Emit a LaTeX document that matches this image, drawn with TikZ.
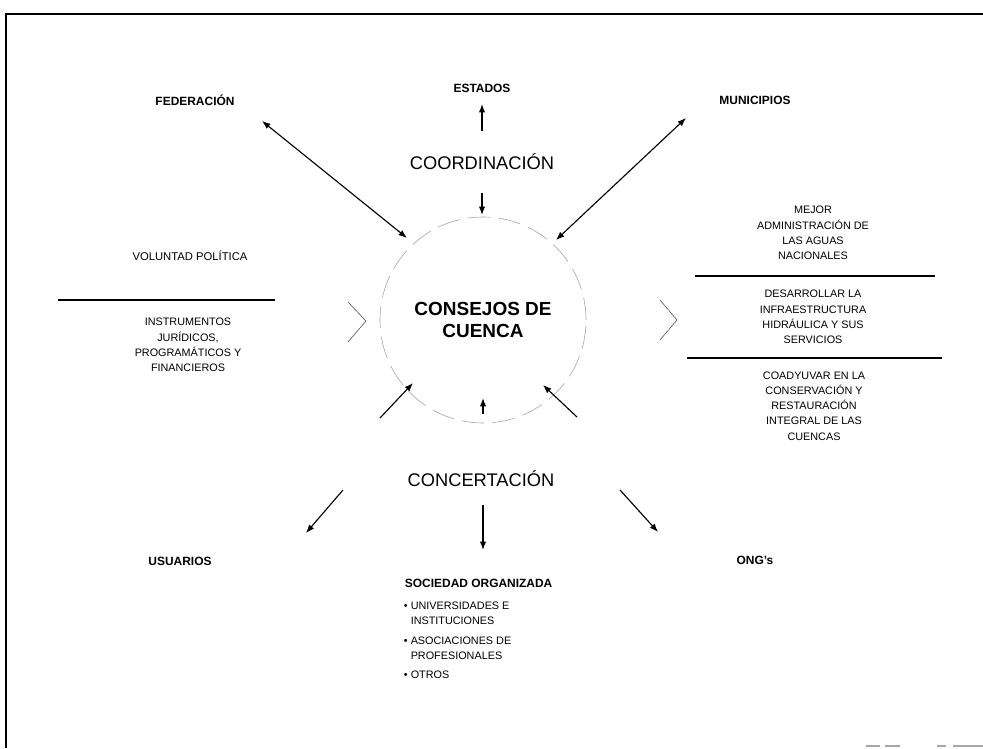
\documentclass[tikz,border=0pt]{standalone}
\usepackage{fontspec}
\setmainfont{Liberation Sans}
\usetikzlibrary{arrows.meta}
\tikzset{
  flecha/.style={-{Latex[length=6pt,width=4.5pt]},line width=0.8pt},
  dflecha/.style={{Latex[length=6pt,width=4.5pt]}-{Latex[length=6pt,width=4.5pt]},line width=0.8pt},
  actor/.style={font=\bfseries\fontsize{8.5}{10}\selectfont},
  texto/.style={align=center,font=\fontsize{7.7}{10.8}\selectfont},
  lema/.style={font=\fontsize{13}{15}\selectfont},
}
\begin{document}
\begin{tikzpicture}[x=0.025cm,y=-0.025cm]
  \useasboundingbox (0,0) rectangle (983,748);
  %marco
  \draw[line width=1pt] (6,748) -- (6,14) -- (983,14);
  \draw[gray!70,line width=0.8pt] (866,746) -- (880,746) (885,746) -- (900,746) (937,746) -- (946,746) (953,746) -- (983,746);
  %centro
  \node (consejo) [circle,draw=gray!75,dash pattern=on 16pt off 6pt,minimum size=5.15cm,align=center,
    font=\bfseries\fontsize{13.5}{16}\selectfont] at (483,320) {CONSEJOS DE\\CUENCA};
  \draw[black!70] (348,302) -- (366,321) -- (348,342);
  \draw[black!70] (660,300) -- (677,320) -- (660,340);
  %actores
  \node[actor] (estados) at (482,88) {ESTADOS};
  \node[actor] (federacion) at (195,100) {FEDERACIÓN};
  \node[actor] (municipios) at (755,100) {MUNICIPIOS};
  \node[actor] (usuarios) at (180,561) {USUARIOS};
  \node[actor] (ongs) at (755,560) {ONG's};
  \node[actor,anchor=west] (sociedad) at (400,583) {SOCIEDAD ORGANIZADA};
  \node[texto,anchor=north west,align=left] (lista) at (399,597) {%
    \textbullet\ UNIVERSIDADES E\\
    \phantom{\textbullet}\ INSTITUCIONES\\[3pt]
    \textbullet\ ASOCIACIONES DE\\
    \phantom{\textbullet}\ PROFESIONALES\\[3pt]
    \textbullet\ OTROS};
  \node[lema] (coordinacion) at (482,162) {COORDINACIÓN};
  \node[lema] (concertacion) at (481,479) {CONCERTACIÓN};
  %izquierda
  \node[texto,font=\fontsize{8}{10.8}\selectfont] (voluntad) at (190,256) {VOLUNTAD POLÍTICA};
  \draw[line width=0.8pt] (58,300) -- (275,300);
  \node[texto] (instrumentos) at (188,345) {INSTRUMENTOS\\JURÍDICOS,\\PROGRAMÁTICOS Y\\FINANCIEROS};
  %derecha
  \node[texto] (mejor) at (813,233) {MEJOR\\ADMINISTRACIÓN DE\\LAS AGUAS\\NACIONALES};
  \draw[line width=0.8pt] (695,276) -- (935,276);
  \node[texto] (desarrollar) at (813,317) {DESARROLLAR LA\\INFRAESTRUCTURA\\HIDRÁULICA Y SUS\\SERVICIOS};
  \draw[line width=0.8pt] (687,358) -- (942,358);
  \node[texto] (coadyuvar) at (814,406) {COADYUVAR EN LA\\CONSERVACIÓN Y\\RESTAURACIÓN\\INTEGRAL DE LAS\\CUENCAS};
  %flechas
  \coordinate (a1) at (482,131); \coordinate (a2) at (482,104);
  \coordinate (b1) at (482,193); \coordinate (b2) at (482,215);
  \coordinate (c1) at (262,121); \coordinate (c2) at (407,238);
  \coordinate (d1) at (686,118); \coordinate (d2) at (556,240);
  \coordinate (e1) at (380,418); \coordinate (e2) at (413,383);
  \coordinate (f1) at (483,414); \coordinate (f2) at (483,398);
  \coordinate (g1) at (577,417); \coordinate (g2) at (543,385);
  \coordinate (h1) at (343,490); \coordinate (h2) at (306,533);
  \coordinate (i1) at (483,505); \coordinate (i2) at (483,550);
  \coordinate (j1) at (620,490); \coordinate (j2) at (658,532);
  \draw[flecha] (a1) -- (a2);
  \draw[flecha] (b1) -- (b2);
  \draw[dflecha] (c1) -- (c2);
  \draw[dflecha] (d1) -- (d2);
  \foreach \p/\q in {e1/e2,f1/f2,g1/g2,h1/h2,i1/i2,j1/j2}
    \draw[flecha] (\p) -- (\q);
\end{tikzpicture}
\end{document}
